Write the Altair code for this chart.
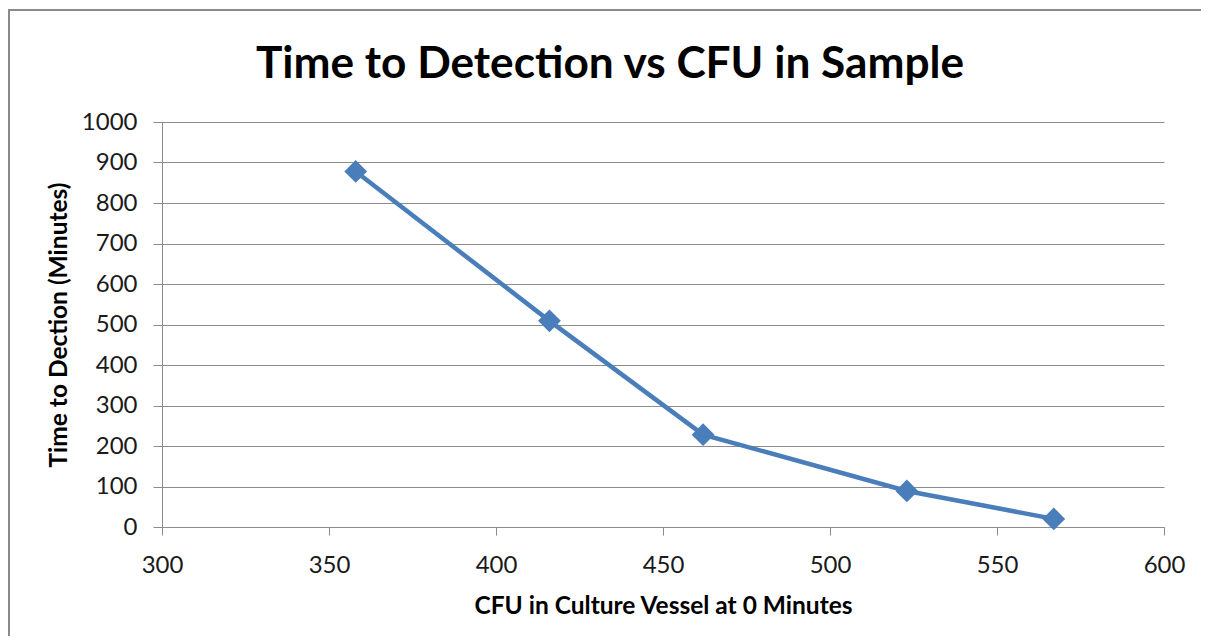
import altair as alt
import pandas as pd

# Data
cfu = [358, 416, 462, 523, 567]
ttd = [878, 509, 228, 89, 20]
x_ticks = [300, 350, 400, 450, 500, 550, 600]
y_ticks = [0, 100, 200, 300, 400, 500, 600, 700, 800, 900, 1000]

df = pd.DataFrame({"cfu": cfu, "ttd": ttd})
frame_df = pd.DataFrame({"k": [0]})

FONT = "Lato"
BLUE = "#4a7ebb"
GRID = "#8c8c8c"
FRAME = "#8a8a8a"

x_enc = alt.X(
    "cfu:Q",
    scale=alt.Scale(domain=[300, 600], nice=False),
    axis=alt.Axis(
        values=x_ticks,
        format="d",
        title="CFU in Culture Vessel at 0 Minutes",
        grid=False,
        tickSize=8,
        labelPadding=18,
        labelFlush=False,
        labelOverlap=False,
        titlePadding=17,
    ),
)
y_enc = alt.Y(
    "ttd:Q",
    scale=alt.Scale(domain=[0, 1000], nice=False),
    axis=alt.Axis(
        values=y_ticks,
        format="d",
        title="Time to Dection (Minutes)",
        grid=True,
        tickSize=9,
        labelPadding=16,
        labelFlush=False,
        labelOverlap=False,
        titlePadding=10,
    ),
)

line = alt.Chart(df).mark_line(color=BLUE, strokeWidth=4.5).encode(x=x_enc, y=y_enc)
points = alt.Chart(df).mark_point(
    shape="diamond", filled=True, color=BLUE, size=520, opacity=1
).encode(x="cfu:Q", y="ttd:Q")

# outer chart-area border (top and left edges visible in the reference)
frame_top = alt.Chart(frame_df).mark_rule(
    color=FRAME, strokeWidth=2, clip=False
).encode(x=alt.value(-153), x2=alt.value(1100), y=alt.value(-112))
frame_left = alt.Chart(frame_df).mark_rule(
    color=FRAME, strokeWidth=2, clip=False
).encode(x=alt.value(-153), y=alt.value(-113), y2=alt.value(600))

chart = (
    alt.layer(frame_top, frame_left, line, points)
    .properties(
        width=1002,
        height=405,
        autosize=alt.AutoSizeParams(type="none"),
        padding={"left": 154, "top": 114, "right": 37, "bottom": 109},
        title=alt.TitleParams(
            "Time to Detection vs CFU in Sample",
            font=FONT,
            fontSize=44.2,
            fontWeight="bold",
            color="#000000",
            anchor="middle",
            dx=-53,
            offset=-79,
        ),
    )
    .configure_view(stroke=None)
    .configure_axis(
        labelFont=FONT,
        labelFontSize=24,
        labelColor="#1a1a1a",
        titleFont=FONT,
        titleFontSize=24.5,
        titleFontWeight="bold",
        titleColor="#000000",
        domainColor=GRID,
        tickColor=GRID,
        gridColor=GRID,
        gridWidth=1,
        domainWidth=1,
        tickWidth=1,
    )
)

chart.save("out.html", embed_options={"renderer": "svg", "actions": False})
